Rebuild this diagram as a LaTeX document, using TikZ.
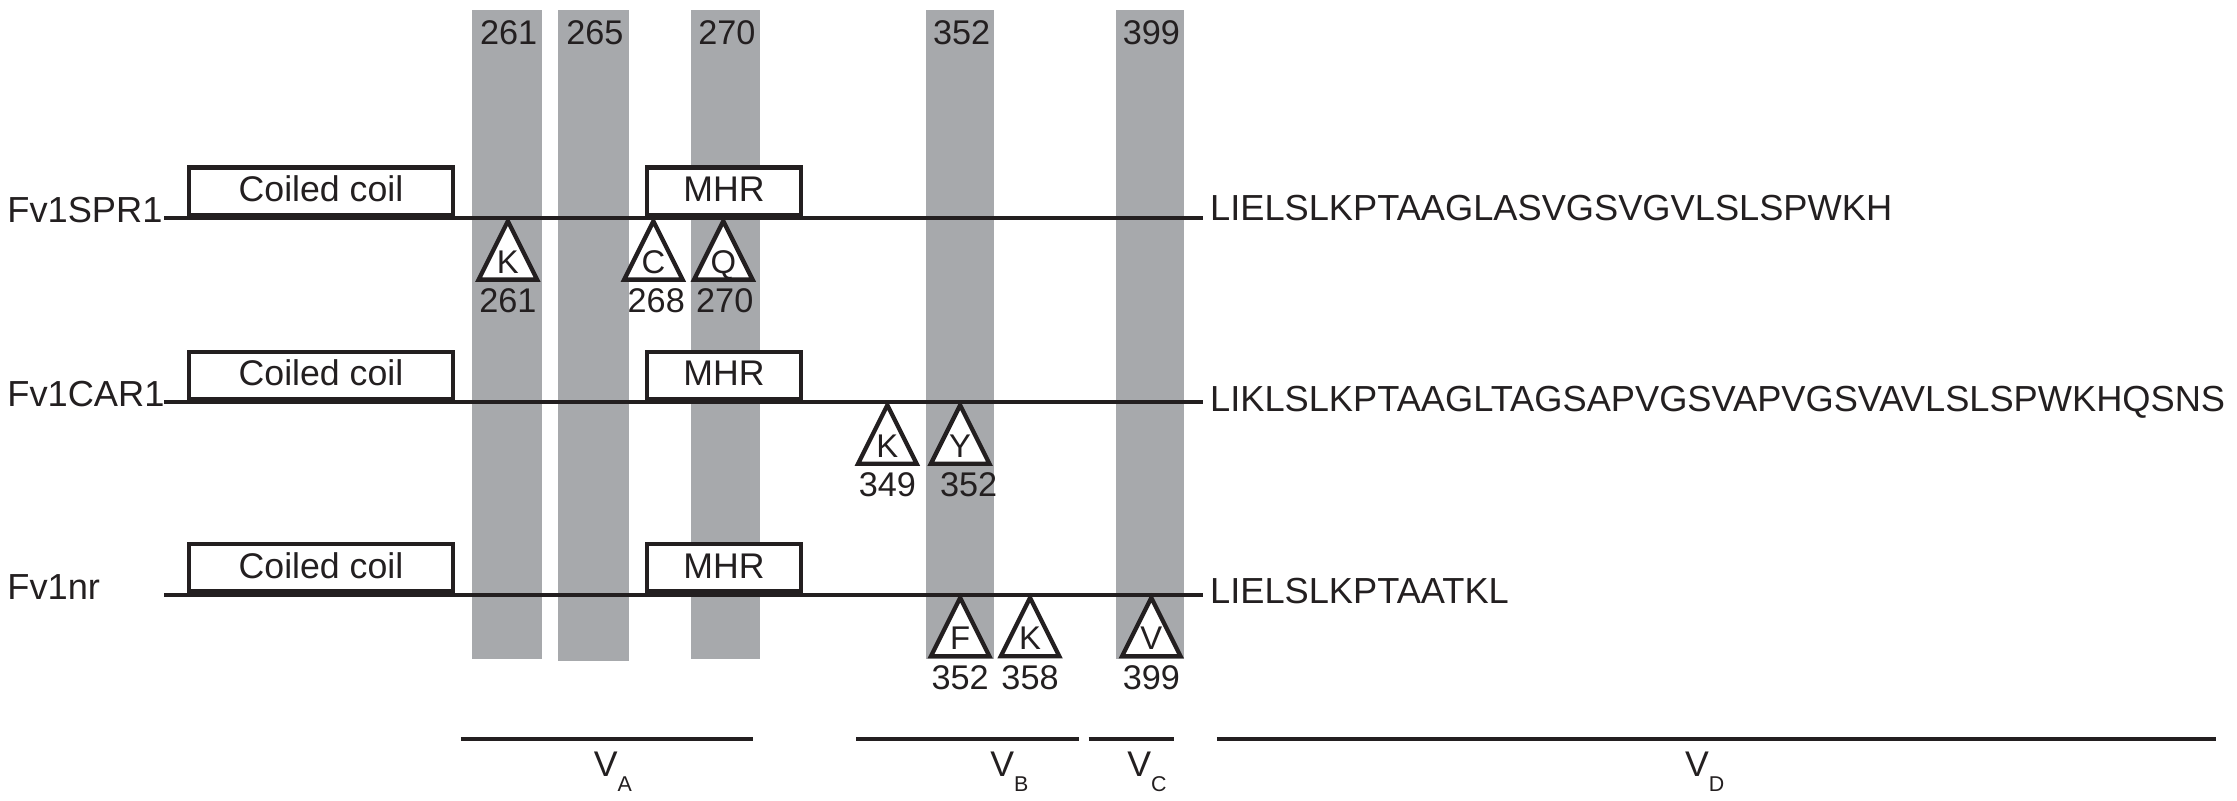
\documentclass[tikz,border=0pt]{standalone}
\usepackage{fontspec}
\setmainfont{Liberation Sans}
\usetikzlibrary{positioning}
\definecolor{bargray}{RGB}{167,169,172}
\definecolor{ink}{RGB}{35,31,32}
\newcommand{\regsub}[1]{\raisebox{-10pt}{\fontsize{15}{15}\selectfont #1}}

\begin{document}
\begin{tikzpicture}[x=1pt, y=-1pt,
  every node/.style={text=ink, inner sep=0pt},
  backbone/.style={draw=ink, line width=3pt},
  domainbox/.style={draw=ink, fill=white, line width=3pt, minimum height=33pt,
    text height=15pt, text depth=0pt, font=\fontsize{25}{25}\selectfont},
  mutation/.style={draw=ink, fill=white, line width=3pt, line join=miter},
  resid/.style={anchor=base, font=\fontsize{23}{23}\selectfont},
  posnum/.style={anchor=base, font=\fontsize{24}{24}\selectfont},
  txt/.style={anchor=base west, font=\fontsize{25.4}{25.4}\selectfont},
  regionline/.style={draw=ink, line width=2.8pt},
  reglabel/.style={anchor=base west, font=\fontsize{25}{25}\selectfont}]

  \useasboundingbox (0,0) rectangle (1568,561);

  % Variable positions
  \foreach \x/\w/\b/\n in {355.5/49/462/261, 416/50/463/265, 508.5/49/462/270,
                           673/48/462/352, 806/48/462/399} {
    \fill[bargray] (\x-\w/2,7) rectangle (\x+\w/2,\b);
    \node[posnum] (bar\n) at (\x+1,31.5) {\n};
  }

  % Define nodes
  \node[txt] (spr) at (5,156) {Fv1SPR1};
  \node[txt] (car) at (5,285) {Fv1CAR1};
  \node[txt] (nr)  at (5,420) {Fv1nr};

  \coordinate (spr-start) at (115,153);  \coordinate (spr-end) at (843,153);
  \coordinate (car-start) at (115,282);  \coordinate (car-end) at (843,282);
  \coordinate (nr-start)  at (115,417);  \coordinate (nr-end)  at (843,417);

  \node[txt] (sprseq) at (848,154.7) {LIELSLKPTAAGLASVGSVGVLSLSPWKH};
  \node[txt] (carseq) at (848,288.5) {LIKLSLKPTAAGLTAGSAPVGSVAPVGSVAVLSLSPWKHQSNS};
  \node[txt] (nrseq)  at (848,423)   {LIELSLKPTAATKL};

  % Connect the nodes
  \draw[backbone] (spr-start) -- (spr-end);
  \draw[backbone] (car-start) -- (car-end);
  \draw[backbone] (nr-start) -- (nr-end);

  % Domains
  \foreach \r/\y in {spr/134, car/263, nr/398} {
    \node[domainbox, minimum width=185pt] (\r-cc)  at (225,\y)   {Coiled coil};
    \node[domainbox, minimum width=108pt] (\r-mhr) at (507.5,\y) {MHR};
  }

  % Mutations
  \foreach \y/\x/\a/\n/\lx in {153/356/K/261/356, 153/458/C/268/460, 153/507/Q/270/508,
                               282/622/K/349/622, 282/673/Y/352/679,
                               417/673/F/352/673, 417/722/K/358/722, 417/807/V/399/807} {
    \draw[mutation] (\x,\y+2) -- (\x-20.5,\y+43) -- (\x+20.5,\y+43) -- cycle;
    \node[resid] (res\n\a) at (\x,\y+38.6) {\a};
    \node[posnum] (num\n\a) at (\lx,\y+66) {\n};
  }

  % Regions
  \coordinate (va-l) at (323,518);  \coordinate (va-r) at (528,518);
  \coordinate (vb-l) at (600,518);  \coordinate (vb-r) at (756,518);
  \coordinate (vc-l) at (763,518);  \coordinate (vc-r) at (823,518);
  \coordinate (vd-l) at (853,518);  \coordinate (vd-r) at (1553,518);
  \draw[regionline] (va-l) -- (va-r);
  \draw[regionline] (vb-l) -- (vb-r);
  \draw[regionline] (vc-l) -- (vc-r);
  \draw[regionline] (vd-l) -- (vd-r);
  \node[reglabel] (va) at (416,544.5)  {V\regsub{A}};
  \node[reglabel] (vb) at (694,544.5)  {V\regsub{B}};
  \node[reglabel] (vc) at (790,544.5)  {V\regsub{C}};
  \node[reglabel] (vd) at (1181,544.5) {V\regsub{D}};

\end{tikzpicture}
\end{document}
